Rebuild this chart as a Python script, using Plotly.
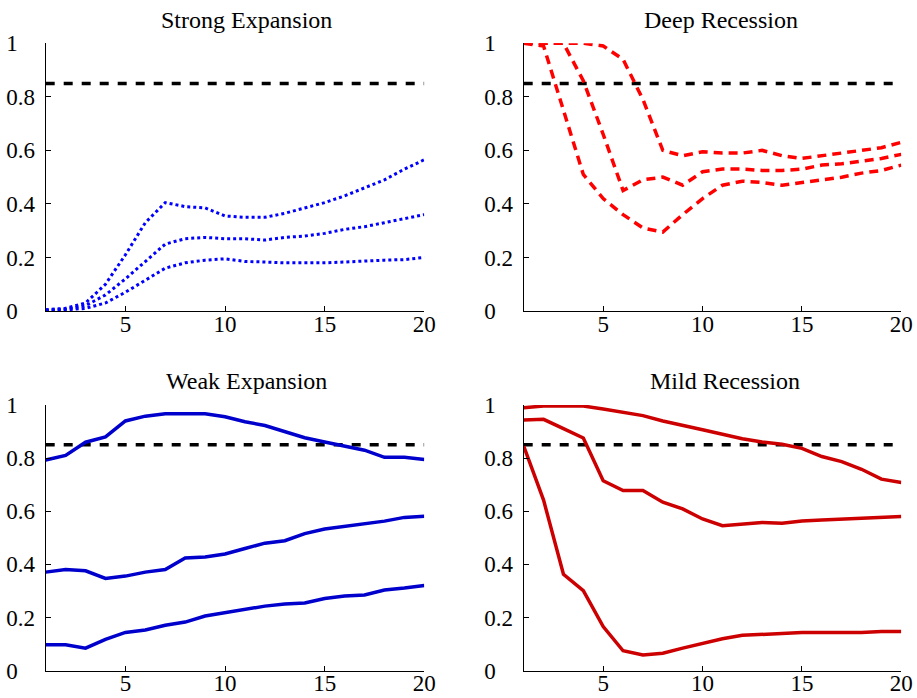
import plotly.graph_objects as go

horizons = list(range(1, 21))
threshold = 0.85

strong_upper = [0.005, 0.01, 0.03, 0.10, 0.21, 0.33, 0.405, 0.39, 0.385, 0.355,
                0.35, 0.35, 0.365, 0.385, 0.405, 0.43, 0.46, 0.49, 0.53, 0.565]
strong_mid = [0.003, 0.007, 0.02, 0.06, 0.12, 0.185, 0.25, 0.27, 0.275, 0.27,
              0.27, 0.265, 0.275, 0.28, 0.29, 0.305, 0.315, 0.33, 0.345, 0.36]
strong_lower = [0.002, 0.004, 0.01, 0.03, 0.07, 0.115, 0.16, 0.18, 0.19, 0.195,
                0.185, 0.183, 0.18, 0.18, 0.18, 0.183, 0.187, 0.19, 0.192, 0.2]

deep_a = [1.0, 1.0, 1.0, 1.0, 0.99, 0.94, 0.79, 0.60, 0.58, 0.595,
          0.59, 0.59, 0.60, 0.58, 0.57, 0.58, 0.59, 0.60, 0.61, 0.63]
deep_b = [1.0, 1.0, 1.0, 0.86, 0.66, 0.45, 0.49, 0.50, 0.47, 0.52,
          0.53, 0.53, 0.525, 0.525, 0.53, 0.545, 0.55, 0.56, 0.57, 0.585]
deep_c = [1.0, 0.99, 0.75, 0.51, 0.42, 0.36, 0.31, 0.295, 0.36, 0.42,
          0.47, 0.485, 0.48, 0.47, 0.48, 0.49, 0.50, 0.515, 0.525, 0.545]

weak_upper = [0.793, 0.81, 0.86, 0.88, 0.94, 0.958, 0.967, 0.967, 0.967, 0.956,
              0.937, 0.923, 0.90, 0.877, 0.861, 0.846, 0.83, 0.803, 0.803, 0.795]
weak_mid = [0.371, 0.381, 0.376, 0.347, 0.356, 0.371, 0.381, 0.424, 0.428, 0.439,
            0.46, 0.48, 0.489, 0.516, 0.533, 0.542, 0.551, 0.563, 0.577, 0.581]
weak_lower = [0.098, 0.098, 0.085, 0.118, 0.144, 0.153, 0.171, 0.183, 0.206, 0.218,
              0.231, 0.243, 0.251, 0.255, 0.272, 0.281, 0.285, 0.304, 0.311, 0.321]

mild_upper = [0.99, 0.996, 0.996, 0.996, 0.985, 0.972, 0.96, 0.94, 0.925, 0.907,
              0.89, 0.873, 0.861, 0.852, 0.837, 0.806, 0.787, 0.758, 0.721, 0.708]
mild_mid = [0.944, 0.946, 0.911, 0.876, 0.715, 0.678, 0.678, 0.634, 0.609, 0.571,
            0.546, 0.551, 0.558, 0.555, 0.563, 0.567, 0.571, 0.575, 0.576, 0.58]
mild_lower = [0.845, 0.642, 0.363, 0.301, 0.166, 0.075, 0.059, 0.066, 0.085, 0.103,
              0.12, 0.133, 0.137, 0.14, 0.144, 0.144, 0.144, 0.144, 0.148, 0.148]

panel_titles = ["Strong Expansion", "Deep Recession", "Weak Expansion", "Mild Recession"]
y_ticks = [0, 0.2, 0.4, 0.6, 0.8, 1]
# short labels padded so that all labels are left-aligned like the reference
y_tick_text = ["0\u2007\u2008", "0.2", "0.4", "0.6", "0.8", "1\u2007\u2008"]
x_ticks = [5, 10, 15, 20]

FONT = "'Liberation Serif', 'Times New Roman', serif"
W, H = 917, 698

fig = go.Figure()

panels = [
    ("x", "y", [strong_upper, strong_mid, strong_lower], "#0000FF", "3px,3px", 3),
    ("x2", "y2", [deep_a, deep_b, deep_c], "#FF0000", "9px,6px", 3.5),
    ("x3", "y3", [weak_upper, weak_mid, weak_lower], "#0000CC", "solid", 3.5),
    ("x4", "y4", [mild_upper, mild_mid, mild_lower], "#CC0000", "solid", 3.5),
]

for xa, ya, series, color, dash, width in panels:
    fig.add_trace(go.Scatter(
        x=horizons, y=[threshold] * len(horizons), xaxis=xa, yaxis=ya,
        mode="lines", line=dict(color="black", width=3.5, dash="9px,9px"),
        showlegend=False, hoverinfo="skip"))
    for s in series:
        fig.add_trace(go.Scatter(
            x=horizons, y=s, xaxis=xa, yaxis=ya, mode="lines",
            line=dict(color=color, width=width, dash=dash),
            showlegend=False))

x_domains = [[45.7 / W, 424.3 / W], [523.7 / W, 901.3 / W]]
y_domains = [[1 - 311 / H, 1 - 43.3 / H], [1 - 670.7 / H, 1 - 405 / H]]

axis_common = dict(showline=True, linecolor="black", linewidth=1, mirror=False,
                   ticks="inside", ticklen=5, tickcolor="black", tickwidth=1,
                   showgrid=False, zeroline=False, automargin=False,
                   tickfont=dict(family=FONT, size=23, color="black"))

layout = dict(
    width=W, height=H, margin=dict(l=0, r=0, t=0, b=0, autoexpand=False),
    paper_bgcolor="white", plot_bgcolor="white", showlegend=False,
    font=dict(family=FONT, color="black"),
)
names = ["", "2", "3", "4"]
for i, n in enumerate(names):
    row, col = divmod(i, 2)
    layout["xaxis" + n] = dict(axis_common, domain=x_domains[col], range=[1, 20],
                               tickvals=x_ticks, anchor="y" + n,
                               ticklabelstandoff=-8)
    layout["yaxis" + n] = dict(axis_common, domain=y_domains[row], range=[0, 1],
                               tickvals=y_ticks, ticktext=y_tick_text,
                               anchor="x" + n, ticklabelstandoff=5)

title_pos = [(246, 20), (721, 20), (247, 381), (725, 381)]
annotations = []
for t, (px, py) in zip(panel_titles, title_pos):
    annotations.append(dict(text=t, x=px / W, y=1 - py / H, xref="paper", yref="paper",
                            xanchor="center", yanchor="middle", showarrow=False,
                            font=dict(family=FONT, size=24, color="black")))
layout["annotations"] = annotations

fig.update_layout(**layout)
fig.write_html("out.html", config={"displayModeBar": False},
               post_script="document.body.style.margin='0';document.body.style.overflow='hidden';")
